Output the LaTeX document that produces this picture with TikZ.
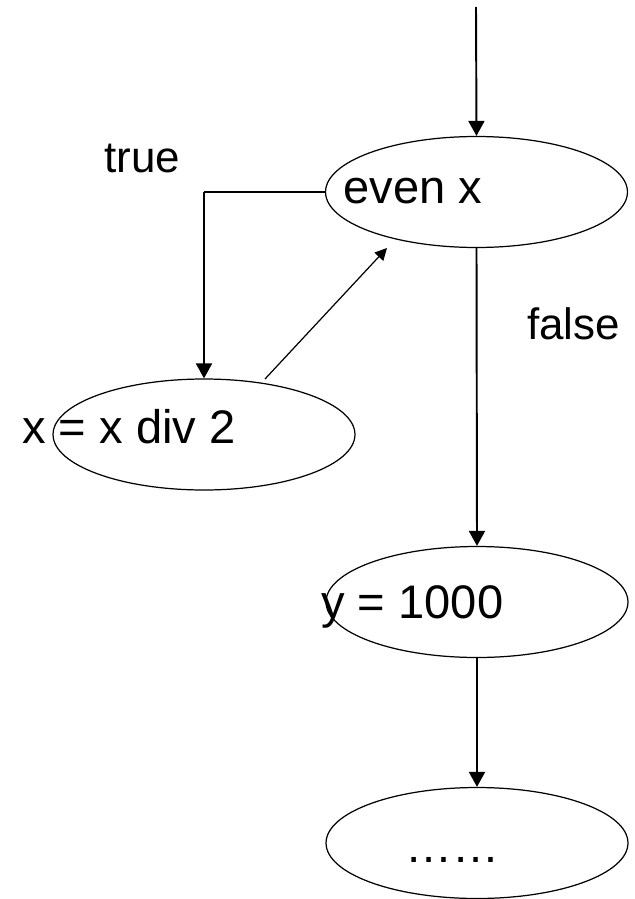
\documentclass[tikz,border=0pt]{standalone}
\usepackage{fontspec}
\setmainfont{Liberation Sans}
\usetikzlibrary{shapes.geometric,arrows.meta}

\begin{document}
\begin{tikzpicture}[x=0.02cm, y=-0.02cm,
  blob/.style={draw, ellipse, line width=0.7pt, minimum width=6.04cm, minimum height=2.22cm, inner sep=0pt},
  flow/.style={-{Triangle[length=0.3cm, width=0.32cm]}, line width=1.1pt},
  txt/.style={anchor=base west, inner sep=0pt, font=\fontsize{26.8}{30}\selectfont},
  lbl/.style={anchor=base west, inner sep=0pt, font=\fontsize{25}{30}\selectfont}]
  \useasboundingbox (0,0) rectangle (635,899);

  \node[blob] (even) at (476.5,192) {};
  \node[blob] (half) at (204,434.5) {};
  \node[blob] (sety) at (477,602) {};
  \node[blob] (rest) at (477,843) {};
  \coordinate (start) at (476,7);
  \coordinate (turn) at (204,192);
  \coordinate (back) at (265,379);
  \coordinate (backend) at (387,248);

  \draw[flow] (start) -- (even.north);
  \draw[line width=0.6pt] (even.west) -- (turn);
  \draw[flow] (turn) -- (half.north);
  \draw[-{Triangle[length=0.24cm, width=0.24cm]}, line width=0.7pt] (back) -- (backend);
  \draw[flow] (even.south) -- (sety.north);
  \draw[flow] (sety.south) -- (rest.north);

  \node[txt] (evtext) at (343,203) {even x};
  \node[txt] (halftext) at (22,443) {x = x div 2};
  \node[txt] (ytext) at (321,618) {y = 1000};
  \node[txt] (resttext) at (405,862) {……};
  \node[lbl] (truelbl) at (104,172) {true};
  \node[lbl] (falselbl) at (527,339) {false};
\end{tikzpicture}
\end{document}
